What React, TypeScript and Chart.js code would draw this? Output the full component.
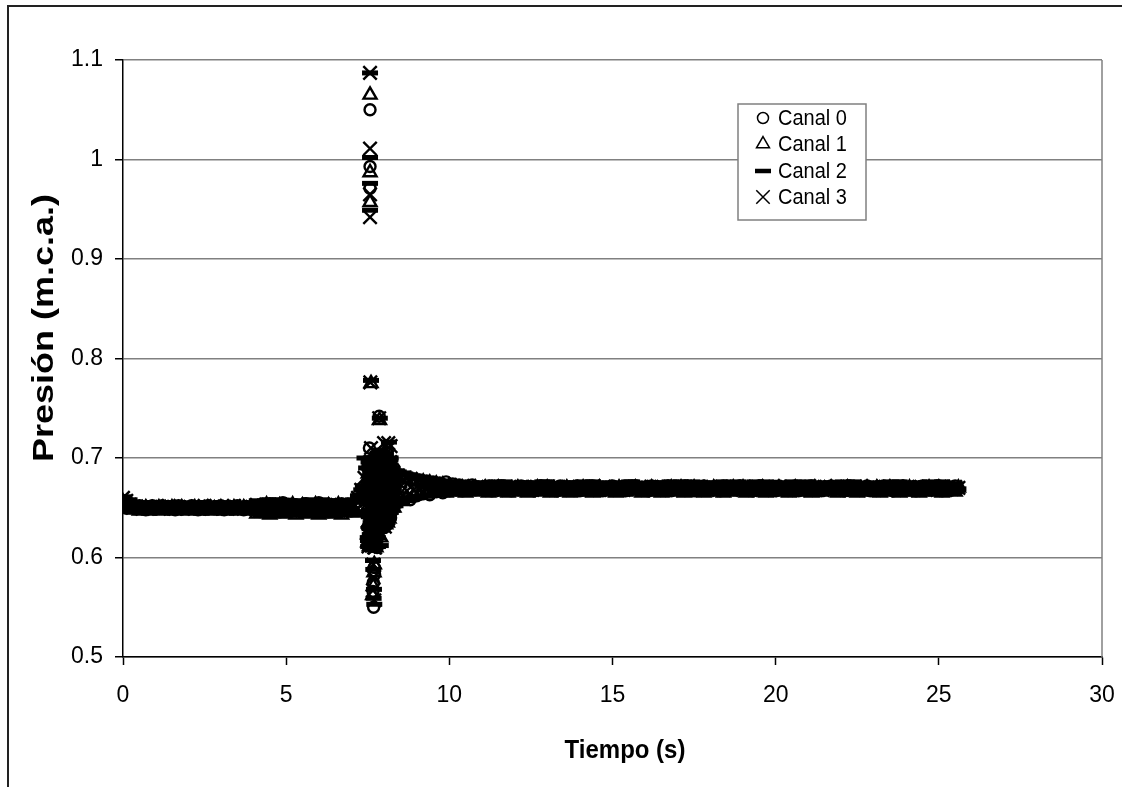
import React, { useEffect, useRef } from 'react';
import { Chart, registerables } from 'chart.js';

Chart.register(...registerables);

const FONT = "'Liberation Sans', Arial, Helvetica, sans-serif";

const etiquetasSeries = ['Canal 0', 'Canal 1', 'Canal 2', 'Canal 3'];
const tituloX = 'Tiempo (s)';
const tituloY = 'Presión (m.c.a.)';
const marcasX = [0, 5, 10, 15, 20, 25, 30];
const marcasY = [0.5, 0.6, 0.7, 0.8, 0.9, 1.0, 1.1];

const tiempo = [
  0, 0.1, 0.2, 0.3, 0.4, 0.5, 0.6, 0.7, 0.8, 0.9,
  1, 1.1, 1.2, 1.3, 1.4, 1.5, 1.6, 1.7, 1.8, 1.9,
  2, 2.1, 2.2, 2.3, 2.4, 2.5, 2.6, 2.7, 2.8, 2.9,
  3, 3.1, 3.2, 3.3, 3.4, 3.5, 3.6, 3.7, 3.8, 3.9,
  4, 4.1, 4.2, 4.3, 4.4, 4.5, 4.6, 4.7, 4.8, 4.9,
  5, 5.1, 5.2, 5.3, 5.4, 5.5, 5.6, 5.7, 5.8, 5.9,
  6, 6.1, 6.2, 6.3, 6.4, 6.5, 6.6, 6.7, 6.8, 6.9,
  7, 7.1, 7.2, 7.3, 7.4, 7.5, 7.6, 7.7, 7.8, 7.9,
  8, 8.1, 8.2, 8.3, 8.4, 8.5, 8.6, 8.7, 8.8, 8.9,
  9, 9.1, 9.2, 9.3, 9.4, 9.5, 9.6, 9.7, 9.8, 9.9,
  10, 10.1, 10.2, 10.3, 10.4, 10.5, 10.6, 10.7, 10.8, 10.9,
  11, 11.1, 11.2, 11.3, 11.4, 11.5, 11.6, 11.7, 11.8, 11.9,
  12, 12.1, 12.2, 12.3, 12.4, 12.5, 12.6, 12.7, 12.8, 12.9,
  13, 13.1, 13.2, 13.3, 13.4, 13.5, 13.6, 13.7, 13.8, 13.9,
  14, 14.1, 14.2, 14.3, 14.4, 14.5, 14.6, 14.7, 14.8, 14.9,
  15, 15.1, 15.2, 15.3, 15.4, 15.5, 15.6, 15.7, 15.8, 15.9,
  16, 16.1, 16.2, 16.3, 16.4, 16.5, 16.6, 16.7, 16.8, 16.9,
  17, 17.1, 17.2, 17.3, 17.4, 17.5, 17.6, 17.7, 17.8, 17.9,
  18, 18.1, 18.2, 18.3, 18.4, 18.5, 18.6, 18.7, 18.8, 18.9,
  19, 19.1, 19.2, 19.3, 19.4, 19.5, 19.6, 19.7, 19.8, 19.9,
  20, 20.1, 20.2, 20.3, 20.4, 20.5, 20.6, 20.7, 20.8, 20.9,
  21, 21.1, 21.2, 21.3, 21.4, 21.5, 21.6, 21.7, 21.8, 21.9,
  22, 22.1, 22.2, 22.3, 22.4, 22.5, 22.6, 22.7, 22.8, 22.9,
  23, 23.1, 23.2, 23.3, 23.4, 23.5, 23.6, 23.7, 23.8, 23.9,
  24, 24.1, 24.2, 24.3, 24.4, 24.5, 24.6, 24.7, 24.8, 24.9,
  25, 25.1, 25.2, 25.3, 25.4, 25.5, 25.6,
];

const canal0 = [
  .657, .655, .654, .651, .649, .652, .650, .648, .651, .652,
  .649, .650, .652, .649, .651, .650, .648, .652, .650, .651,
  .649, .652, .650, .648, .651, .649, .652, .650, .649, .651,
  .652, .648, .650, .651, .649, .652, .650, .648, .651, .650,
  .652, .647, .653, .650, .646, .654, .649, .652, .646, .655,
  .648, .651, .647, .653, .650, .646, .654, .649, .652, .647,
  .655, .648, .651, .646, .653, .650, .647, .654, .649, .652,
  .647, .654, .656, .660, .666, .690, .640, .700, .625, .680,
  .630, .705, .640, .690, .655, .683, .660, .680, .658, .679,
  .662, .678, .664, .677, .663, .676, .666, .675, .665, .676,
  .667, .674, .668, .673, .667, .672, .669, .673, .668, .671,
  .670, .668, .672, .667, .671, .669, .672, .668, .670, .667,
  .671, .669, .672, .668, .670, .671, .667, .669, .672, .670,
  .668, .671, .669, .667, .672, .670, .668, .671, .669, .672,
  .667, .670, .671, .668, .672, .669, .670, .667, .671, .669,
  .672, .668, .670, .671, .667, .669, .672, .670, .668, .671,
  .669, .667, .672, .670, .668, .671, .669, .672, .667, .670,
  .671, .668, .672, .669, .670, .667, .671, .669, .672, .668,
  .670, .671, .669, .667, .672, .670, .668, .671, .669, .672,
  .668, .670, .671, .667, .669, .672, .670, .668, .671, .669,
  .667, .672, .670, .668, .671, .669, .672, .667, .670, .671,
  .668, .672, .669, .670, .667, .671, .669, .672, .668, .670,
  .671, .667, .669, .672, .670, .668, .671, .669, .672, .667,
  .670, .671, .668, .672, .669, .670, .667, .671, .669, .672,
  .668, .670, .671, .667, .669, .672, .670, .668, .671, .669,
  .672, .667, .670, .671, .668, .672, .669,
];

const canal1 = [
  .656, .654, .652, .648, .650, .647, .649, .650, .647, .649,
  .648, .650, .647, .649, .648, .650, .647, .649, .650, .648,
  .647, .649, .650, .648, .647, .649, .650, .647, .649, .648,
  .650, .647, .649, .648, .650, .647, .649, .650, .648, .647,
  .649, .644, .651, .646, .653, .643, .650, .645, .652, .644,
  .651, .645, .653, .643, .649, .652, .644, .650, .646, .653,
  .643, .651, .645, .652, .644, .650, .653, .643, .649, .646,
  .652, .645, .658, .664, .672, .615, .695, .630, .700, .620,
  .705, .635, .690, .650, .682, .658, .680, .660, .678, .662,
  .677, .663, .676, .664, .675, .665, .674, .666, .673, .665,
  .672, .666, .671, .667, .670, .665, .669, .667, .670, .666,
  .668, .670, .665, .669, .667, .670, .666, .668, .665, .669,
  .667, .670, .666, .668, .665, .669, .667, .670, .666, .668,
  .670, .665, .669, .667, .668, .666, .670, .665, .669, .667,
  .668, .670, .666, .669, .665, .667, .670, .668, .666, .669,
  .667, .665, .670, .668, .666, .669, .667, .670, .668, .665,
  .669, .667, .670, .666, .668, .665, .669, .667, .670, .666,
  .668, .670, .665, .669, .667, .670, .666, .668, .665, .669,
  .667, .670, .666, .668, .665, .669, .667, .670, .666, .668,
  .670, .665, .669, .667, .668, .666, .670, .665, .669, .667,
  .668, .670, .666, .669, .665, .667, .670, .668, .666, .669,
  .667, .665, .670, .668, .666, .669, .667, .670, .668, .665,
  .669, .667, .670, .666, .668, .665, .669, .667, .670, .666,
  .668, .670, .665, .669, .667, .670, .666, .668, .665, .669,
  .667, .670, .666, .668, .665, .669, .667, .670, .666, .668,
  .670, .665, .669, .667, .668, .666, .670,
];

const canal2 = [
  .661, .646, .658, .654, .647, .651, .655, .646, .653, .649,
  .654, .648, .652, .646, .650, .655, .647, .651, .654, .648,
  .653, .646, .650, .655, .649, .652, .647, .654, .648, .651,
  .655, .646, .650, .653, .648, .654, .647, .652, .649, .655,
  .646, .657, .644, .650, .642, .655, .647, .652, .658, .645,
  .649, .643, .654, .657, .646, .651, .642, .656, .648, .653,
  .644, .658, .650, .645, .655, .642, .652, .657, .647, .650,
  .643, .656, .662, .668, .700, .620, .685, .640, .705, .612,
  .698, .640, .700, .652, .687, .654, .685, .657, .683, .660,
  .681, .661, .680, .662, .679, .663, .678, .664, .677, .665,
  .676, .664, .672, .668, .675, .665, .670, .674, .666, .672,
  .675, .667, .671, .664, .673, .669, .665, .676, .670, .666,
  .674, .668, .672, .664, .675, .669, .666, .673, .671, .665,
  .676, .668, .670, .664, .674, .667, .672, .665, .675, .669,
  .666, .673, .670, .664, .676, .668, .671, .665, .674, .669,
  .667, .675, .664, .672, .669, .666, .676, .670, .665, .673,
  .668, .674, .664, .671, .667, .675, .669, .665, .673, .670,
  .666, .676, .668, .672, .664, .674, .670, .667, .675, .665,
  .671, .669, .673, .664, .676, .667, .670, .666, .674, .668,
  .672, .665, .675, .669, .664, .673, .667, .676, .670, .666,
  .674, .668, .671, .664, .675, .669, .666, .673, .670, .665,
  .676, .667, .672, .664, .674, .669, .666, .675, .670, .665,
  .673, .668, .671, .664, .676, .667, .670, .665, .674, .669,
  .666, .675, .671, .664, .673, .668, .670, .665, .676, .669,
  .667, .674, .664, .672, .669, .666, .675, .670, .665, .673,
  .668, .676, .664, .671, .667, .674, .669,
];

// Canal 2: muestras intermedias (t = 0.05, 0.15, ...)
const tiempoB = [
  0.05, 0.15, 0.25, 0.35, 0.45, 0.55, 0.65, 0.75, 0.85, 0.95,
  1.05, 1.15, 1.25, 1.35, 1.45, 1.55, 1.65, 1.75, 1.85, 1.95,
  2.05, 2.15, 2.25, 2.35, 2.45, 2.55, 2.65, 2.75, 2.85, 2.95,
  3.05, 3.15, 3.25, 3.35, 3.45, 3.55, 3.65, 3.75, 3.85, 3.95,
  4.05, 4.15, 4.25, 4.35, 4.45, 4.55, 4.65, 4.75, 4.85, 4.95,
  5.05, 5.15, 5.25, 5.35, 5.45, 5.55, 5.65, 5.75, 5.85, 5.95,
  6.05, 6.15, 6.25, 6.35, 6.45, 6.55, 6.65, 6.75, 6.85, 6.95,
  7.05, 7.15, 7.25, 7.35, 7.45, 7.55, 7.65, 7.75, 7.85, 7.95,
  8.05, 8.15, 8.25, 8.35, 8.45, 8.55, 8.65, 8.75, 8.85, 8.95,
  9.05, 9.15, 9.25, 9.35, 9.45, 9.55, 9.65, 9.75, 9.85, 9.95,
  10.05, 10.15, 10.25, 10.35, 10.45, 10.55, 10.65, 10.75, 10.85, 10.95,
  11.05, 11.15, 11.25, 11.35, 11.45, 11.55, 11.65, 11.75, 11.85, 11.95,
  12.05, 12.15, 12.25, 12.35, 12.45, 12.55, 12.65, 12.75, 12.85, 12.95,
  13.05, 13.15, 13.25, 13.35, 13.45, 13.55, 13.65, 13.75, 13.85, 13.95,
  14.05, 14.15, 14.25, 14.35, 14.45, 14.55, 14.65, 14.75, 14.85, 14.95,
  15.05, 15.15, 15.25, 15.35, 15.45, 15.55, 15.65, 15.75, 15.85, 15.95,
  16.05, 16.15, 16.25, 16.35, 16.45, 16.55, 16.65, 16.75, 16.85, 16.95,
  17.05, 17.15, 17.25, 17.35, 17.45, 17.55, 17.65, 17.75, 17.85, 17.95,
  18.05, 18.15, 18.25, 18.35, 18.45, 18.55, 18.65, 18.75, 18.85, 18.95,
  19.05, 19.15, 19.25, 19.35, 19.45, 19.55, 19.65, 19.75, 19.85, 19.95,
  20.05, 20.15, 20.25, 20.35, 20.45, 20.55, 20.65, 20.75, 20.85, 20.95,
  21.05, 21.15, 21.25, 21.35, 21.45, 21.55, 21.65, 21.75, 21.85, 21.95,
  22.05, 22.15, 22.25, 22.35, 22.45, 22.55, 22.65, 22.75, 22.85, 22.95,
  23.05, 23.15, 23.25, 23.35, 23.45, 23.55, 23.65, 23.75, 23.85, 23.95,
  24.05, 24.15, 24.25, 24.35, 24.45, 24.55, 24.65, 24.75, 24.85, 24.95,
  25.05, 25.15, 25.25, 25.35, 25.45, 25.55,
];
const canal2b = [
  .659, .652, .647, .655, .650, .646, .653, .649, .655, .647,
  .651, .654, .646, .652, .649, .655, .648, .653, .646, .650,
  .654, .647, .652, .655, .646, .649, .653, .648, .655, .650,
  .646, .653, .649, .655, .647, .651, .654, .646, .652, .648,
  .653, .645, .656, .649, .658, .643, .651, .654, .642, .648,
  .657, .644, .652, .646, .655, .650, .643, .658, .647, .653,
  .642, .655, .648, .657, .644, .651, .656, .643, .654, .646,
  .658, .645, .663, .672, .690, .615, .700, .630, .708, .635,
  .702, .645, .690, .652, .686, .656, .684, .658, .682, .660,
  .680, .662, .679, .663, .678, .664, .677, .664, .676, .665,
  .670, .676, .666, .673, .664, .671, .675, .668, .665, .674,
  .669, .665, .673, .667, .676, .664, .671, .674, .666, .670,
  .665, .672, .668, .675, .664, .670, .673, .667, .676, .669,
  .671, .664, .674, .668, .666, .672, .675, .665, .670, .673,
  .667, .676, .669, .664, .673, .666, .671, .675, .668, .665,
  .672, .669, .664, .674, .667, .676, .670, .665, .673, .668,
  .666, .671, .675, .664, .669, .673, .667, .676, .665, .670,
  .674, .668, .665, .672, .676, .666, .670, .664, .673, .669,
  .667, .675, .670, .665, .671, .664, .674, .668, .676, .666,
  .672, .665, .669, .676, .667, .673, .664, .670, .675, .668,
  .665, .671, .674, .666, .669, .676, .668, .664, .672, .670,
  .673, .667, .664, .675, .670, .666, .671, .674, .665, .669,
  .676, .668, .672, .665, .674, .667, .664, .670, .673, .666,
  .669, .674, .666, .671, .665, .676, .670, .667, .672, .664,
  .671, .665, .675, .668, .673, .666, .669, .676, .664, .670,
  .667, .674, .670, .665, .672, .668,
];

const canal3 = [
  .660, .657, .653, .650, .651, .650, .649, .651, .650, .651,
  .650, .649, .651, .650, .652, .650, .649, .651, .650, .650,
  .651, .650, .649, .651, .650, .652, .650, .649, .651, .650,
  .650, .651, .649, .650, .652, .650, .651, .649, .650, .651,
  .650, .653, .647, .652, .648, .653, .647, .652, .649, .653,
  .647, .652, .648, .653, .650, .647, .652, .648, .653, .649,
  .652, .647, .653, .648, .652, .650, .647, .653, .648, .652,
  .649, .653, .660, .668, .680, .625, .710, .610, .690, .640,
  .715, .645, .686, .662, .680, .665, .678, .667, .677, .668,
  .676, .668, .675, .669, .674, .668, .673, .669, .672, .670,
  .672, .669, .671, .670, .672, .669, .671, .670, .669, .671,
  .670, .669, .671, .668, .670, .671, .669, .670, .668, .671,
  .669, .670, .671, .669, .668, .670, .671, .669, .670, .668,
  .671, .670, .669, .671, .668, .670, .669, .671, .670, .669,
  .668, .671, .670, .669, .671, .670, .668, .669, .671, .670,
  .669, .671, .668, .670, .669, .671, .670, .668, .669, .671,
  .670, .669, .671, .668, .670, .671, .669, .670, .668, .671,
  .669, .670, .671, .669, .668, .670, .671, .669, .670, .668,
  .671, .670, .669, .671, .668, .670, .669, .671, .670, .669,
  .668, .671, .670, .669, .671, .670, .668, .669, .671, .670,
  .669, .671, .668, .670, .669, .671, .670, .668, .669, .671,
  .670, .669, .671, .668, .670, .671, .669, .670, .668, .671,
  .669, .670, .671, .669, .668, .670, .671, .669, .670, .668,
  .671, .670, .669, .671, .668, .670, .669, .671, .670, .669,
  .668, .671, .670, .669, .671, .670, .668, .669, .671, .670,
  .669, .671, .668, .670, .669, .671, .670,
];

// transitorio (golpe de presión), muestreo más denso
const tiempoPico = [
  7.5, 7.5125, 7.525, 7.5375, 7.55, 7.5625, 7.575, 7.5875, 7.6, 7.6125,
  7.625, 7.6375, 7.65, 7.6625, 7.675, 7.6875, 7.7, 7.7125, 7.725, 7.7375,
  7.75, 7.7625, 7.775, 7.7875, 7.8, 7.8125, 7.825, 7.8375, 7.85, 7.8625,
  7.875, 7.8875, 7.9, 7.9125, 7.925, 7.9375, 7.95, 7.9625, 7.975, 7.9875,
  8, 8.0125, 8.025, 8.0375, 8.05, 8.0625, 8.075, 8.0875, 8.1, 8.1125,
  8.125, 8.1375, 8.15, 8.1625, 8.175, 8.1875, 8.2, 8.2125, 8.225, 8.2375,
  8.25, 8.2625, 8.275, 8.2875, 8.3,
];
const pico0 = [
  .696, .648, .672, .623, .684, .635, .659, .611, .694, .649,
  .671, .624, .686, .633, .660, .612, .697, .647, .673, .622,
  .683, .636, .658, .610, .695, .648, .682, .642, .692, .652,
  .672, .632, .702, .662, .682, .642, .692, .652, .672, .632,
  .703, .661, .683, .643, .691, .653, .671, .633, .701, .664,
  .680, .648, .687, .655, .671, .639, .696, .665, .675, .655,
  .680, .660, .670, .650, .685,
];
const pico1 = [
  .623, .684, .635, .659, .611, .696, .648, .672, .624, .683,
  .636, .660, .612, .695, .647, .671, .622, .685, .634, .658,
  .610, .697, .649, .673, .623, .684, .652, .672, .632, .702,
  .662, .682, .642, .692, .652, .672, .632, .702, .662, .682,
  .643, .691, .651, .673, .633, .701, .661, .683, .642, .687,
  .655, .671, .639, .696, .664, .680, .648, .680, .660, .670,
  .650, .685, .665, .675, .655,
];
const pico2 = [
  .659, .611, .696, .648, .672, .623, .684, .635, .660, .612,
  .695, .647, .673, .624, .683, .636, .658, .610, .697, .649,
  .671, .622, .685, .634, .659, .611, .702, .662, .682, .642,
  .692, .652, .672, .632, .702, .662, .682, .642, .692, .652,
  .671, .633, .703, .661, .681, .643, .693, .651, .672, .639,
  .696, .664, .680, .648, .687, .655, .671, .650, .685, .665,
  .675, .655, .680, .660, .670,
];
const tiempoPicoB = [
  7.50625, 7.51875, 7.53125, 7.54375, 7.55625, 7.56875, 7.58125, 7.59375,
  7.60625, 7.61875, 7.63125, 7.64375, 7.65625, 7.66875, 7.68125, 7.69375,
  7.70625, 7.71875, 7.73125, 7.74375, 7.75625, 7.76875, 7.78125, 7.79375,
  7.80625, 7.81875, 7.83125, 7.84375, 7.85625, 7.86875, 7.88125, 7.89375,
  7.90625, 7.91875, 7.93125, 7.94375, 7.95625, 7.96875, 7.98125, 7.99375,
  8.00625, 8.01875, 8.03125, 8.04375, 8.05625, 8.06875, 8.08125, 8.09375,
  8.10625, 8.11875, 8.13125, 8.14375, 8.15625, 8.16875, 8.18125, 8.19375,
  8.20625, 8.21875, 8.23125, 8.24375, 8.25625, 8.26875, 8.28125, 8.29375,
];
const pico2b = [
  .617, .666, .641, .690, .629, .678, .654, .700,
  .618, .665, .642, .689, .628, .679, .653, .699,
  .616, .667, .640, .691, .630, .677, .655, .700,
  .620, .637, .677, .657, .697, .647, .687, .667,
  .705, .638, .676, .658, .696, .646, .688, .666,
  .704, .637, .677, .657, .697, .647, .687, .667,
  .644, .676, .660, .692, .652, .684, .668, .698,
  .652, .672, .662, .682, .657, .677, .667, .684,
];
const pico3 = [
  .635, .672, .611, .684, .648, .659, .623, .696, .636, .671,
  .612, .685, .647, .660, .624, .695, .634, .673, .610, .683,
  .649, .658, .622, .697, .635, .672, .632, .692, .662, .672,
  .642, .702, .652, .682, .632, .692, .662, .672, .642, .702,
  .653, .681, .631, .693, .661, .673, .643, .701, .652, .680,
  .639, .687, .664, .671, .648, .696, .655, .675, .650, .680,
  .665, .670, .655, .685, .660,
];

// valores extremos del pico [tiempo, presión]
const extremos0: [number, number][] = [
  [7.57, 1.05], [7.57, 0.993], [7.57, 0.971], [7.85, 0.742], [7.55, 0.71],
  [7.68, 0.55], [7.66, 0.566], [7.7, 0.59], [7.67, 0.575], [7.71, 0.583],
];
const extremos1: [number, number][] = [
  [7.57, 1.065], [7.57, 0.987], [7.57, 0.957], [7.6, 0.775], [7.86, 0.738],
  [7.67, 0.571], [7.69, 0.585], [7.65, 0.562], [7.7, 0.593],
];
const extremos2: [number, number][] = [
  [7.57, 1.087], [7.57, 1.002], [7.57, 0.976], [7.57, 0.949], [7.6, 0.778],
  [7.87, 0.74], [8.15, 0.716], [7.7, 0.553], [7.68, 0.559], [7.66, 0.597],
  [7.69, 0.568], [7.67, 0.588],
];
const extremos3: [number, number][] = [
  [7.57, 1.087], [7.57, 1.011], [7.57, 0.965], [7.57, 0.942], [7.58, 0.776],
  [7.85, 0.74], [8.13, 0.715], [8.2, 0.712], [7.66, 0.567], [7.68, 0.58],
  [7.7, 0.557], [7.67, 0.593],
];

const estilos = [
  { pointStyle: 'circle', radius: 5.5, borderWidth: 2.4, legendWidth: 1.5 },
  { pointStyle: 'triangle', radius: 7.5, borderWidth: 2.4, legendWidth: 1.5 },
  { pointStyle: 'line', radius: 8, borderWidth: 5, legendWidth: 4.5 },
  { pointStyle: 'crossRot', radius: 9.5, borderWidth: 2.4, legendWidth: 1.5 },
];

function serie(ts: number[], vals: number[]) {
  return ts.map((t, i) => ({ x: t, y: vals[i] })).filter((p) => p.y !== undefined);
}

function drawMarker(ctx: CanvasRenderingContext2D, style: string, x: number, y: number, r: number, bw: number) {
  ctx.save();
  ctx.strokeStyle = '#000';
  ctx.lineWidth = bw;
  ctx.beginPath();
  if (style === 'circle') {
    ctx.arc(x, y, r, 0, Math.PI * 2);
  } else if (style === 'triangle') {
    let rad = 0;
    ctx.moveTo(x + Math.sin(rad) * r, y - Math.cos(rad) * r);
    rad += (2 * Math.PI) / 3;
    ctx.lineTo(x + Math.sin(rad) * r, y - Math.cos(rad) * r);
    rad += (2 * Math.PI) / 3;
    ctx.lineTo(x + Math.sin(rad) * r, y - Math.cos(rad) * r);
    ctx.closePath();
  } else if (style === 'line') {
    ctx.moveTo(x - r, y);
    ctx.lineTo(x + r, y);
  } else {
    const o = Math.cos(Math.PI / 4) * r;
    ctx.moveTo(x - o, y - o);
    ctx.lineTo(x + o, y + o);
    ctx.moveTo(x - o, y + o);
    ctx.lineTo(x + o, y - o);
  }
  ctx.stroke();
  ctx.restore();
}

const decorPlugin = {
  id: 'decor',
  beforeDraw(chart: any) {
    const { ctx, width, height } = chart;
    ctx.save();
    ctx.fillStyle = '#fff';
    ctx.fillRect(0, 0, width, height);
    ctx.restore();
  },
  afterDraw(chart: any) {
    const { ctx, chartArea: a } = chart;
    ctx.save();
    // right plot border
    ctx.strokeStyle = '#808080';
    ctx.lineWidth = 1.5;
    ctx.beginPath();
    ctx.moveTo(a.right, a.top);
    ctx.lineTo(a.right, a.bottom);
    ctx.stroke();
    // outer chart frame
    ctx.strokeStyle = '#222';
    ctx.lineWidth = 2;
    ctx.beginPath();
    ctx.moveTo(8, 787);
    ctx.lineTo(8, 6);
    ctx.lineTo(1122, 6);
    ctx.stroke();

    // axis titles
    ctx.fillStyle = '#000';
    ctx.textAlign = 'center';
    ctx.textBaseline = 'middle';
    ctx.save();
    ctx.translate(625, 751);
    ctx.scale(1, 1.1);
    ctx.font = `bold 24px ${FONT}`;
    ctx.fillText(tituloX, 0, 0);
    ctx.restore();
    ctx.save();
    ctx.translate(45, 328);
    ctx.rotate(-Math.PI / 2);
    ctx.scale(1.2, 1);
    ctx.font = `bold 30px ${FONT}`;
    ctx.fillText(tituloY, 0, 0);
    ctx.restore();

    // legend
    const lx = 738, ly = 104, lw = 128, lh = 116;
    ctx.fillStyle = '#fff';
    ctx.fillRect(lx, ly, lw, lh);
    ctx.strokeStyle = '#808080';
    ctx.lineWidth = 1.5;
    ctx.strokeRect(lx, ly, lw, lh);
    ctx.textAlign = 'left';
    ctx.textBaseline = 'middle';
    ctx.fillStyle = '#000';
    const ys = [118, 144, 171, 197];
    etiquetasSeries.forEach((lab, i) => {
      const e = estilos[i];
      drawMarker(ctx, e.pointStyle, 763, ys[i], e.radius, e.legendWidth);
      ctx.save();
      ctx.translate(778, ys[i] + 1);
      ctx.scale(1, 1.12);
      ctx.font = `20px ${FONT}`;
      ctx.fillText(lab, 0, 0);
      ctx.restore();
    });
    ctx.restore();
  },
};

export default function App() {
  const ref = useRef<HTMLCanvasElement>(null);
  useEffect(() => {
    if (!ref.current) return;
    const par = (e: [number, number][]) => e.map(([x, y]) => ({ x, y }));
    const series = [
      [...serie(tiempo, canal0), ...serie(tiempoPico, pico0), ...par(extremos0)],
      [...serie(tiempo, canal1), ...serie(tiempoPico, pico1), ...par(extremos1)],
      [
        ...serie(tiempo, canal2),
        ...serie(tiempoB, canal2b),
        ...serie(tiempoPico, pico2),
        ...serie(tiempoPicoB, pico2b),
        ...par(extremos2),
      ],
      [...serie(tiempo, canal3), ...serie(tiempoPico, pico3), ...par(extremos3)],
    ];
    const chart = new Chart(ref.current, {
      type: 'scatter',
      data: {
        datasets: series.map((d, i) => ({
          label: etiquetasSeries[i],
          data: d,
          pointStyle: estilos[i].pointStyle as any,
          pointRadius: estilos[i].radius,
          pointBorderWidth: estilos[i].borderWidth,
          borderColor: '#000',
          backgroundColor: 'rgba(0,0,0,0)',
          pointBackgroundColor: 'rgba(0,0,0,0)',
          pointBorderColor: '#000',
          showLine: false,
        })),
      },
      options: {
        responsive: false,
        animation: false,
        devicePixelRatio: 1,
        layout: { padding: { left: 8, top: 60, right: 20, bottom: 20 } },
        plugins: {
          legend: { display: false },
          tooltip: { enabled: false },
          title: { display: false },
        },
        scales: {
          x: {
            type: 'linear',
            min: 0,
            max: 30,
            afterBuildTicks: (s: any) => {
              s.ticks = marcasX.map((v) => ({ value: v }));
            },
            afterFit: (s: any) => {
              s.height = 110;
              s.paddingLeft = 0;
              s.paddingRight = 0;
            },
            ticks: {
              color: '#000',
              font: { family: FONT, size: 23 },
              padding: 17,
              maxRotation: 0,
              autoSkip: false,
              callback: (v: any) => String(v),
            },
            grid: {
              drawOnChartArea: false,
              drawTicks: true,
              tickLength: 8,
              tickColor: '#000',
              tickWidth: 1.5,
            },
            border: { display: true, color: '#000', width: 1.5 },
          },
          y: {
            type: 'linear',
            min: 0.5,
            max: 1.1,
            afterBuildTicks: (s: any) => {
              s.ticks = marcasY.map((v) => ({ value: v }));
            },
            afterFit: (s: any) => {
              s.width = 115;
              s.paddingTop = 0;
              s.paddingBottom = 0;
            },
            ticks: {
              color: '#000',
              font: { family: FONT, size: 23 },
              padding: 12,
              autoSkip: false,
              callback: (v: any) => Number(Number(v).toFixed(1)).toString(),
            },
            grid: {
              color: '#808080',
              lineWidth: 1.5,
              drawTicks: true,
              tickLength: 8,
              tickColor: '#000',
              tickWidth: 1.5,
            },
            border: { display: true, color: '#000', width: 1.5 },
          },
        },
      },
      plugins: [decorPlugin],
    });
    return () => chart.destroy();
  }, []);
  return (
    <div style={{ position: 'absolute', left: 0, top: 0, width: 1122, height: 787 }}>
      <canvas ref={ref} width={1122} height={787} style={{ display: 'block' }} />
    </div>
  );
}
